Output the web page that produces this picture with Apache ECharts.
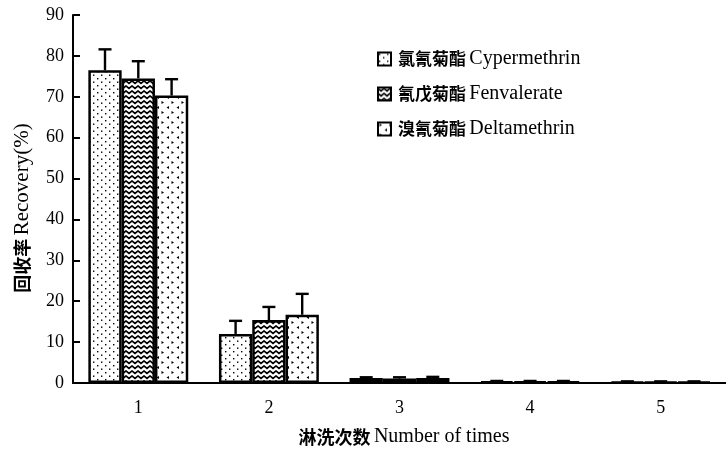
<!DOCTYPE html>
<html>
<head>
<meta charset="utf-8">
<script src="https://cdn.jsdelivr.net/npm/echarts@6/dist/echarts.min.js"></script>
<style>
  html, body { margin: 0; padding: 0; background: #fff; }
  #chart { width: 726px; height: 451px; }
</style>
</head>
<body>
<div id="chart"></div>
<script>
// Elution rounds and recovery (%) for three pyrethroids
const categories = ['1', '2', '3', '4', '5'];
const cypermethrin = [76.5, 12.0, 1.2, 0.4, 0.3];
const fenvalerate  = [74.5, 15.4, 1.1, 0.4, 0.3];
const deltamethrin = [70.3, 16.7, 1.2, 0.4, 0.3];
// Standard deviations (upper whisker)
const cypermethrinErr = [5.1, 3.2, 0.2, 0.1, 0.1];
const fenvalerateErr  = [4.2, 3.2, 0.3, 0.1, 0.1];
const deltamethrinErr = [4.0, 5.1, 0.3, 0.1, 0.1];
const seriesNames = ['氯氰菊酯 Cypermethrin', '氰戊菊酯 Fenvalerate', '溴氰菊酯 Deltamethrin'];
const yTicks = [0, 10, 20, 30, 40, 50, 60, 70, 80, 90];

// Fill textures for the bars
function makeTile(w, h, draw) {
  const c = document.createElement('canvas');
  c.width = w; c.height = h;
  const ctx = c.getContext('2d');
  ctx.fillStyle = '#fff';
  ctx.fillRect(0, 0, w, h);
  ctx.fillStyle = '#000';
  ctx.strokeStyle = '#000';
  draw(ctx);
  return c;
}
const dotTile = makeTile(8, 7, ctx => {
  ctx.fillRect(1, 1, 1.4, 1.4);
  ctx.fillRect(5, 4.5, 1.4, 1.4);
});
const zigzagTile = makeTile(6, 5, ctx => {
  ctx.lineWidth = 1.7;
  ctx.beginPath();
  ctx.moveTo(-1, 0.5); ctx.lineTo(0, 1); ctx.lineTo(3, 3.5); ctx.lineTo(6, 1); ctx.lineTo(7, 0.5);
  ctx.stroke();
});
const arrowTile = makeTile(10, 10, ctx => {
  ctx.beginPath();
  ctx.moveTo(1.5, 1); ctx.lineTo(4, 2.5); ctx.lineTo(1.5, 4); ctx.closePath();
  ctx.fill();
  ctx.beginPath();
  ctx.moveTo(9, 6); ctx.lineTo(6.5, 7.5); ctx.lineTo(9, 9); ctx.closePath();
  ctx.fill();
});
const tiles = [dotTile, zigzagTile, arrowTile];
const values = [cypermethrin, fenvalerate, deltamethrin];
const errors = [cypermethrinErr, fenvalerateErr, deltamethrinErr];

const gapRatio = 0.235;
const serif = '"Liberation Serif", "Times New Roman", serif';
const cjk = '"Noto Sans CJK SC", sans-serif';

const barSeries = values.map((vals, k) => ({
  name: seriesNames[k],
  type: 'bar',
  data: vals,
  barGap: '0%',
  barCategoryGap: (gapRatio * 100) + '%',
  itemStyle: {
    color: { image: tiles[k], repeat: 'repeat' },
    borderColor: '#000',
    borderWidth: 2.5
  },
  z: 2
}));

const errorSeries = values.map((vals, k) => ({
  name: 'err' + k,
  type: 'custom',
  data: vals.map((v, i) => [i, v, errors[k][i]]),
  z: 1,
  renderItem: function (params, api) {
    const ci = api.value(0);
    const v = api.value(1);
    const e = api.value(2);
    const band = api.size([1, 0])[0];
    const bw = band * (1 - gapRatio) / 3;
    const base = api.coord([ci, v]);
    const top = api.coord([ci, v + e]);
    const x = base[0] + (k - 1) * bw;
    const cap = 6.5;
    return {
      type: 'group',
      children: [
        { type: 'line', shape: { x1: x, y1: base[1], x2: x, y2: top[1] }, style: { stroke: '#000', lineWidth: 2.4 } },
        { type: 'line', shape: { x1: x - cap, y1: top[1], x2: x + cap, y2: top[1] }, style: { stroke: '#000', lineWidth: 2.4 } }
      ]
    };
  }
}));

const chart = echarts.init(document.getElementById('chart'), null, { renderer: 'canvas' });
chart.setOption({
  animation: false,
  backgroundColor: '#fff',
  grid: { left: 73, right: -3, top: 15, bottom: 68, containLabel: false },
  legend: {
    data: seriesNames,
    orient: 'vertical',
    left: 372,
    top: 44,
    itemWidth: 13,
    itemHeight: 13,
    itemGap: 15,
    icon: 'rect',
    formatter: function (name) {
      const parts = name.split(' ');
      return '{cn|' + parts[0] + '} {en|' + parts.slice(1).join(' ') + '}';
    },
    textStyle: {
      rich: {
        cn: { fontFamily: cjk, fontWeight: 'bold', fontSize: 17, color: '#000', lineHeight: 20, padding: [0, 0, 0, 2] },
        en: { fontFamily: serif, fontSize: 20, color: '#000', lineHeight: 20 }
      }
    }
  },
  xAxis: {
    type: 'category',
    data: categories,
    axisLine: { lineStyle: { color: '#000', width: 2 } },
    axisTick: { inside: true, length: 7, lineStyle: { color: '#000', width: 2 } },
    axisLabel: { color: '#000', fontFamily: serif, fontSize: 18, margin: 16 }
  },
  yAxis: {
    type: 'value',
    min: yTicks[0],
    max: yTicks[yTicks.length - 1],
    interval: yTicks[1] - yTicks[0],
    axisLine: { show: true, lineStyle: { color: '#000', width: 2 } },
    axisTick: { show: true, inside: true, length: 7, lineStyle: { color: '#000', width: 2 } },
    splitLine: { show: false },
    axisLabel: { color: '#000', fontFamily: serif, fontSize: 18, margin: 9 }
  },
  graphic: [
    {
      type: 'text',
      x: 22, y: 208,
      rotation: Math.PI / 2,
      style: {
        text: '{cn|回收率} {en|Recovery(%)}',
        align: 'center', verticalAlign: 'middle',
        rich: {
          cn: { fontFamily: cjk, fontWeight: 'bold', fontSize: 18, fill: '#000' },
          en: { fontFamily: serif, fontSize: 21, fill: '#000' }
        }
      }
    },
    {
      type: 'text',
      x: 404, y: 437,
      style: {
        text: '{cn|淋洗次数} {en|Number of times}',
        align: 'center', verticalAlign: 'middle',
        rich: {
          cn: { fontFamily: cjk, fontWeight: 'bold', fontSize: 18, fill: '#000' },
          en: { fontFamily: serif, fontSize: 20, fill: '#000' }
        }
      }
    }
  ],
  series: barSeries.concat(errorSeries)
});
</script>
</body>
</html>
